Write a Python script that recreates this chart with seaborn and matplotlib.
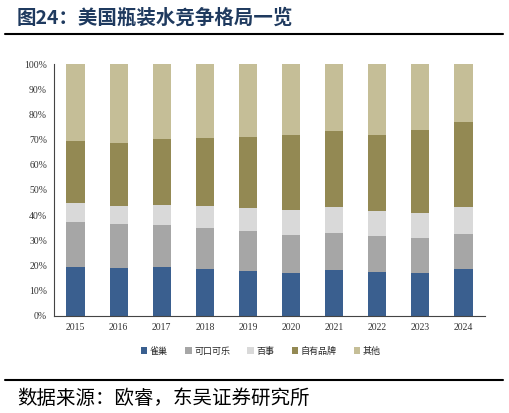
import matplotlib.pyplot as plt
import seaborn as sns
import numpy as np
import pandas as pd
from matplotlib.patches import Patch
from matplotlib.lines import Line2D
from matplotlib.ticker import PercentFormatter, FixedLocator

# market share (%) by year
years = ['2015', '2016', '2017', '2018', '2019', '2020', '2021', '2022', '2023', '2024']
nestle = [19.2, 18.8, 19.2, 18.7, 17.7, 17.0, 18.0, 17.5, 17.0, 18.4]
coke = [17.9, 17.6, 17.0, 16.1, 15.9, 15.1, 14.8, 14.0, 14.0, 13.9]
pepsi = [7.7, 7.3, 7.9, 8.8, 9.2, 9.9, 10.2, 10.0, 9.9, 10.7]
private = [24.7, 25.0, 26.2, 27.0, 28.2, 29.7, 30.4, 30.2, 33.0, 34.1]
others = [30.5, 31.3, 29.7, 29.4, 29.0, 28.3, 26.6, 28.3, 26.1, 22.9]

labels = ['雀巢', '可口可乐', '百事', '自有品牌', '其他']
colors = ['#3A5F8F', '#A6A6A6', '#D9D9D9', '#938953', '#C5BE97']

sns.set_style('white')
plt.rcParams['font.family'] = ['Liberation Serif', 'Noto Sans CJK SC']

df = pd.DataFrame({'year': years, '雀巢': nestle, '可口可乐': coke, '百事': pepsi,
                   '自有品牌': private, '其他': others})
cum = df[labels].cumsum(axis=1)

fig = plt.figure(figsize=(5.1, 4.13), dpi=100)
ax = fig.add_axes([54 / 510, 97.3 / 413, 431 / 510, 251.7 / 413])

# stacked look: draw cumulative totals from the top layer down
for lab, col in reversed(list(zip(labels, colors))):
    sns.barplot(x=df['year'], y=cum[lab], color=col, width=0.42, ax=ax,
                saturation=1, linewidth=0)

ax.set_xlim(-0.5, len(years) - 0.5)
ax.set_ylim(0, 100)
ax.set_xlabel('')
ax.set_ylabel('')
ax.yaxis.set_major_formatter(PercentFormatter(decimals=0))
ax.set_yticks(np.arange(0, 101, 10))
ax.xaxis.set_major_locator(FixedLocator(np.arange(-0.5, len(years), 1)))
ax.xaxis.set_minor_locator(FixedLocator(np.arange(len(years))))
ax.set_xticklabels([], minor=False)
ax.set_xticklabels(years, minor=True)
ax.tick_params(axis='x', which='major', direction='out', length=3, width=0.8, color='#333333')
ax.tick_params(axis='x', which='minor', length=0, labelsize=7, pad=5, colors='#333333')
ax.tick_params(axis='y', direction='out', length=3, width=0.8, labelsize=7, colors='#333333', pad=2)
for s in ['top', 'right']:
    ax.spines[s].set_visible(False)
for s in ['left', 'bottom']:
    ax.spines[s].set_color('#444444')
    ax.spines[s].set_linewidth(0.8)

handles = [Patch(facecolor=c, edgecolor='none') for c in colors]
fig.legend(handles, labels, loc='center', bbox_to_anchor=(261 / 510, 1 - 351 / 413),
           ncol=5, frameon=False, handlelength=0.7, handleheight=0.7,
           handletextpad=0.3, columnspacing=1.9,
           prop={'family': 'Noto Sans CJK SC', 'size': 6.5})

# title and source
fig.text(17 / 510, 1 - 18 / 413, '图24：美国瓶装水竞争格局一览', fontsize=14, fontweight='bold',
         color='#1F3A5F', va='center', ha='left', family=['Noto Sans CJK SC'])
fig.add_artist(Line2D([5 / 510, 503 / 510], [1 - 34 / 413] * 2, color='black', lw=1.5))
fig.add_artist(Line2D([5 / 510, 503 / 510], [1 - 380 / 413] * 2, color='black', lw=1.5))
fig.text(17 / 510, 1 - 398 / 413, '数据来源：欧睿，东吴证券研究所', fontsize=14,
         color='black', va='center', ha='left', family=['Noto Sans CJK SC'])

fig.savefig('out.png', dpi=100)
